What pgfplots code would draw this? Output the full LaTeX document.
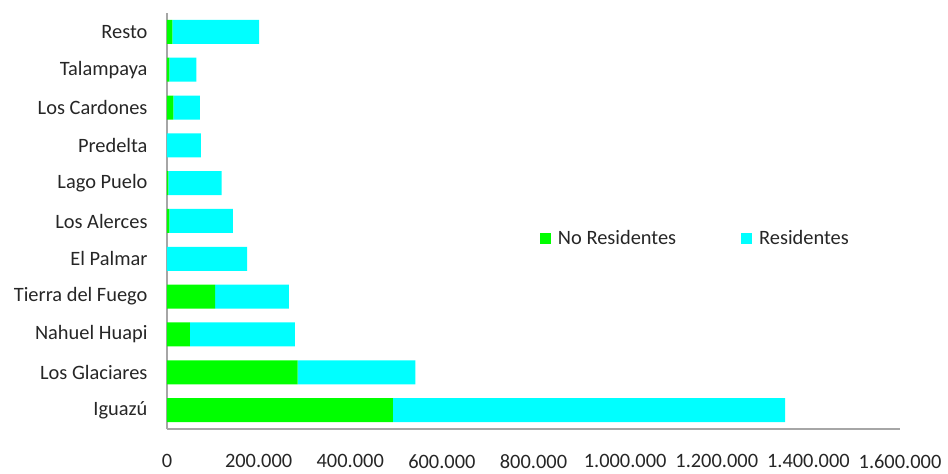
\documentclass[border=0pt]{standalone}
\usepackage{fontspec}
\setmainfont{Carlito}
\usepackage{pgfplots}
\pgfplotsset{compat=1.18}
\definecolor{cNoRes}{RGB}{0,255,0}
\definecolor{cRes}{RGB}{0,255,255}
\definecolor{cAxis}{RGB}{166,166,166}

\begin{document}
\begin{tikzpicture}[font=\fontsize{20.4pt}{24pt}\selectfont]
\useasboundingbox (-167pt,-45pt) rectangle (781pt,429pt);
\begin{axis}[
    scale only axis,
    width=733pt, height=416pt,
    xbar stacked,
    bar width=24pt,
    xmin=0, xmax=1600000,
    ymin=-0.5, ymax=10.5,
    axis x line*=bottom,
    axis y line*=left,
    axis line style={cAxis, line width=1.2pt, -},
    major tick length=0pt,
    xtick={0,200000,...,1600000},
    ytick={0,...,10},
    yticklabels={Iguazú\ ,Los Glaciares\ ,Nahuel Huapi,Tierra del Fuego,El Palmar,Los Alerces,Lago Puelo,Predelta,Los Cardones,Talampaya,Resto},
    scaled x ticks=false,
    x tick label style={
        /pgf/number format/.cd, fixed, 1000 sep={.}, assume math mode=true,
        /tikz/.cd, yshift=-22pt, text=black!85},
    y tick label style={xshift=-16pt, text=black!85},
    legend style={draw=none, fill=none, at={(0.5045,0.459)}, anchor=west,
        text=black!85,
        /tikz/every even column/.append style={column sep=63pt}},
    legend columns=2,
    legend image code/.code={\fill[#1] (0pt,-5.5pt) rectangle (11pt,5.5pt);
        \path (16pt,0pt);},
]
\addplot[fill=cNoRes, draw=none] coordinates {
    (493000,0) (285000,1) (50000,2) (105000,3) (0,4) (5000,5)
    (3000,6) (0,7) (14000,8) (5000,9) (12000,10)};
\addlegendentry{No Residentes}
\addplot[fill=cRes, draw=none] coordinates {
    (856000,0) (257000,1) (229000,2) (161000,3) (175000,4) (139000,5)
    (116000,6) (74000,7) (58000,8) (59000,9) (189000,10)};
\addlegendentry{Residentes}
\end{axis}
\end{tikzpicture}
\end{document}
